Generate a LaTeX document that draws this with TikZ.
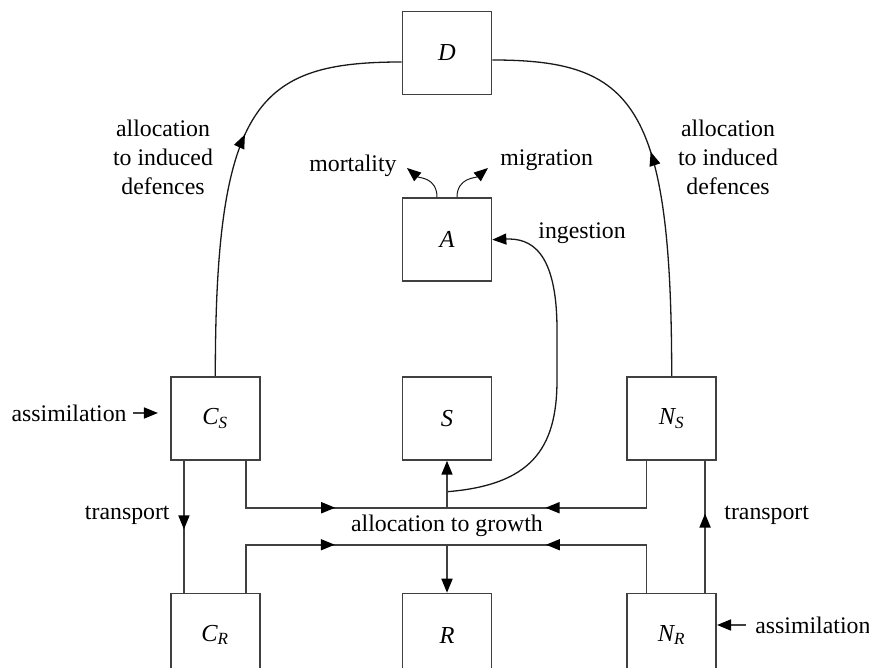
\documentclass[tikz,border=0pt]{standalone}
\usepackage{amsmath}
\usepackage{fontspec}
\setmainfont{Liberation Serif}
\usetikzlibrary{arrows.meta, positioning, decorations.markings}

\begin{document}
\begin{tikzpicture}[
    x=0.5pt, y=-0.5pt,
    pool/.style={rectangle, draw=black!75, line width=0.85pt, minimum width=44.5pt,
                 minimum height=41.5pt, inner sep=0pt, font=\fontsize{12.2}{14.5}\selectfont\itshape},
    lbl/.style={inner sep=0pt, font=\fontsize{11.9}{14.5}\selectfont, align=center},
    pipe/.style={draw=black!75, line width=0.85pt},
    curve/.style={draw=black!90, line width=0.65pt},
    flow/.style={-{Triangle[length=7pt, width=5.5pt, color=black]}},
    midarrow/.style={postaction={decorate}, decoration={markings,
                     mark=at position #1 with {\arrow{Triangle[length=7pt, width=5.5pt, color=black]}}}},
]
\clip (0,0) rectangle (869,668);

% Pools
\node[pool] (D) at (447,53) {D};
\node[pool, below=51pt of D] (A) {A};
\node[pool, below=47pt of A] (S) {S};
\node[pool, left=70.5pt of S] (CS) {C$_{\textit{S}}$};
\node[pool, right=67pt of S] (NS) {N$_{\textit{S}}$};
\node[pool, below=66pt of CS] (CR) {C$_{\textit{R}}$};
\node[pool, below=66pt of S] (R) {R};
\node[pool, below=66pt of NS] (NR) {N$_{\textit{R}}$};

% Junctions
\coordinate (gtop) at ([yshift=-23.5pt]S.south);
\coordinate (gbot) at ([yshift=24pt]R.north);
\coordinate (ing) at ([yshift=-15.5pt]S.south);

% Labels
\node[lbl] (defC) at (163,157) {allocation\\to induced\\defences};
\node[lbl] (defN) at (728,157) {allocation\\to induced\\defences};
\node[lbl, anchor=east] (mort) at (397,166) {mortality};
\node[lbl, anchor=west] (migr) at (500,160) {migration};
\node[lbl, anchor=west] (ingest) at (538,233) {ingestion};
\node[lbl, anchor=east] (asC) at (127,413) {assimilation};
\node[lbl, anchor=west] (asN) at (755,625) {assimilation};
\node[lbl, anchor=east] (trC) at (170,515) {transport};
\node[lbl, anchor=west] (trN) at (724,515) {transport};
\node[lbl] (growth) at ([yshift=-9pt]gtop) {allocation to growth};

% Induced defences
\draw[curve, midarrow=0.57] (CS.north) .. controls +(0,-274) and +(-143,0) .. ([yshift=-4.5pt]D.west);
\draw[curve, midarrow=0.53] (NS.north) .. controls +(0,-274) and +(140,0) .. ([yshift=-3.5pt]D.east);

% Losses of A
\draw[curve, line width=0.5pt, flow] ([xshift=-5pt]A.north) .. controls +(0,-20) and +(12,10) .. ([xshift=5pt, yshift=-1pt]mort.east);
\draw[curve, line width=0.5pt, flow] ([xshift=5pt]A.north) .. controls +(0,-20) and +(-12,10) .. ([xshift=-6pt, yshift=-4pt]migr.west);

% Ingestion
\draw[curve, flow] (ing) .. controls (530,485) and (557,450) .. (557,380) -- (557,330)
    .. controls (557,250) and (530,238) .. (A.east);

% Allocation to growth
\draw[pipe, midarrow=0.55] ([xshift=-7.5pt]CS.south east) |- (gtop);
\draw[pipe, midarrow=0.6] ([xshift=10pt]NS.south west) |- (gtop);
\draw[pipe, midarrow=0.55] ([xshift=-7.5pt]CR.north east) |- (gbot);
\draw[pipe, midarrow=0.6] ([xshift=10pt]NR.north west) |- (gbot);
\draw[pipe, flow] (gtop) -- (S.south);
\draw[pipe, flow] (gbot) -- (R.north);

% Transport
\draw[pipe, midarrow=0.52] ([xshift=7pt]CS.south west) -- ([xshift=7pt]CR.north west);
\draw[pipe, midarrow=0.6] ([xshift=-6pt]NR.north east) -- ([xshift=-6pt]NS.south east);

% Assimilation
\draw[pipe, flow, shorten <=3pt, shorten >=6pt] (asC.east) -- (asC.east -| CS.west);
\draw[pipe, flow, shorten <=4.5pt] (asN.west) -- (asN.west -| NR.east);

\end{tikzpicture}
\end{document}
